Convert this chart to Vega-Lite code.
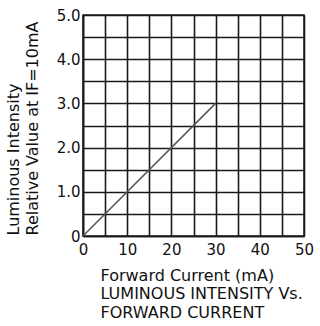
{
  "$schema": "https://vega.github.io/schema/vega-lite/v6.json",
  "width": 221,
  "height": 221,
  "autosize": {"type": "none"},
  "padding": {"left": 83, "top": 15, "right": 16, "bottom": 90},
  "background": "white",
  "config": {"view": {"stroke": "#222", "strokeWidth": 1.5}, "font": "DejaVu Sans"},
  "data": {"values": [
    {"current": 0, "intensity": 0},
    {"current": 30, "intensity": 3.0}
  ]},
  "mark": {"type": "line", "color": "#555", "strokeWidth": 1.5},
  "encoding": {
    "x": {
      "field": "current", "type": "quantitative",
      "scale": {"domain": [0, 50], "nice": false},
      "axis": {
        "values": [0, 5, 10, 15, 20, 25, 30, 35, 40, 45, 50],
        "labelExpr": "datum.value % 10 == 0 ? datum.label : ''",
        "grid": true, "gridColor": "#1a1a1a", "gridWidth": 1.6, "gridOpacity": 1,
        "domainColor": "#1a1a1a", "domainWidth": 1.6,
        "ticks": false, "labelPadding": 6,
        "labelFontSize": 15, "labelColor": "#111", "labelFlush": false,
        "title": ["Forward Current (mA)", "LUMINOUS INTENSITY Vs.", "FORWARD CURRENT"],
        "titleFontSize": 16, "titleFontWeight": "normal", "titleColor": "#111",
        "titleAlign": "left", "titleAnchor": "start", "titleBaseline": "top",
        "titleX": 17, "titleY": 31, "titleLineHeight": 18.5
      }
    },
    "y": {
      "field": "intensity", "type": "quantitative",
      "scale": {"domain": [0, 5], "nice": false},
      "axis": {
        "values": [0, 0.5, 1, 1.5, 2, 2.5, 3, 3.5, 4, 4.5, 5],
        "labelExpr": "datum.value == 0 ? '0' : (datum.value % 1 == 0 ? format(datum.value, '.1f') : '')",
        "grid": true, "gridColor": "#1a1a1a", "gridWidth": 1.6, "gridOpacity": 1,
        "domainColor": "#1a1a1a", "domainWidth": 1.6,
        "ticks": false, "labelPadding": 3,
        "labelFontSize": 15, "labelColor": "#111", "labelFlush": false,
        "title": ["Luminous Intensity", "Relative Value at IF=10mA"],
        "titleFontSize": 16, "titleFontWeight": "normal", "titleColor": "#111",
        "titleAngle": -90, "titleAlign": "left", "titleBaseline": "top",
        "titleX": -78, "titleY": 220, "titleLineHeight": 19
      }
    }
  }
}
